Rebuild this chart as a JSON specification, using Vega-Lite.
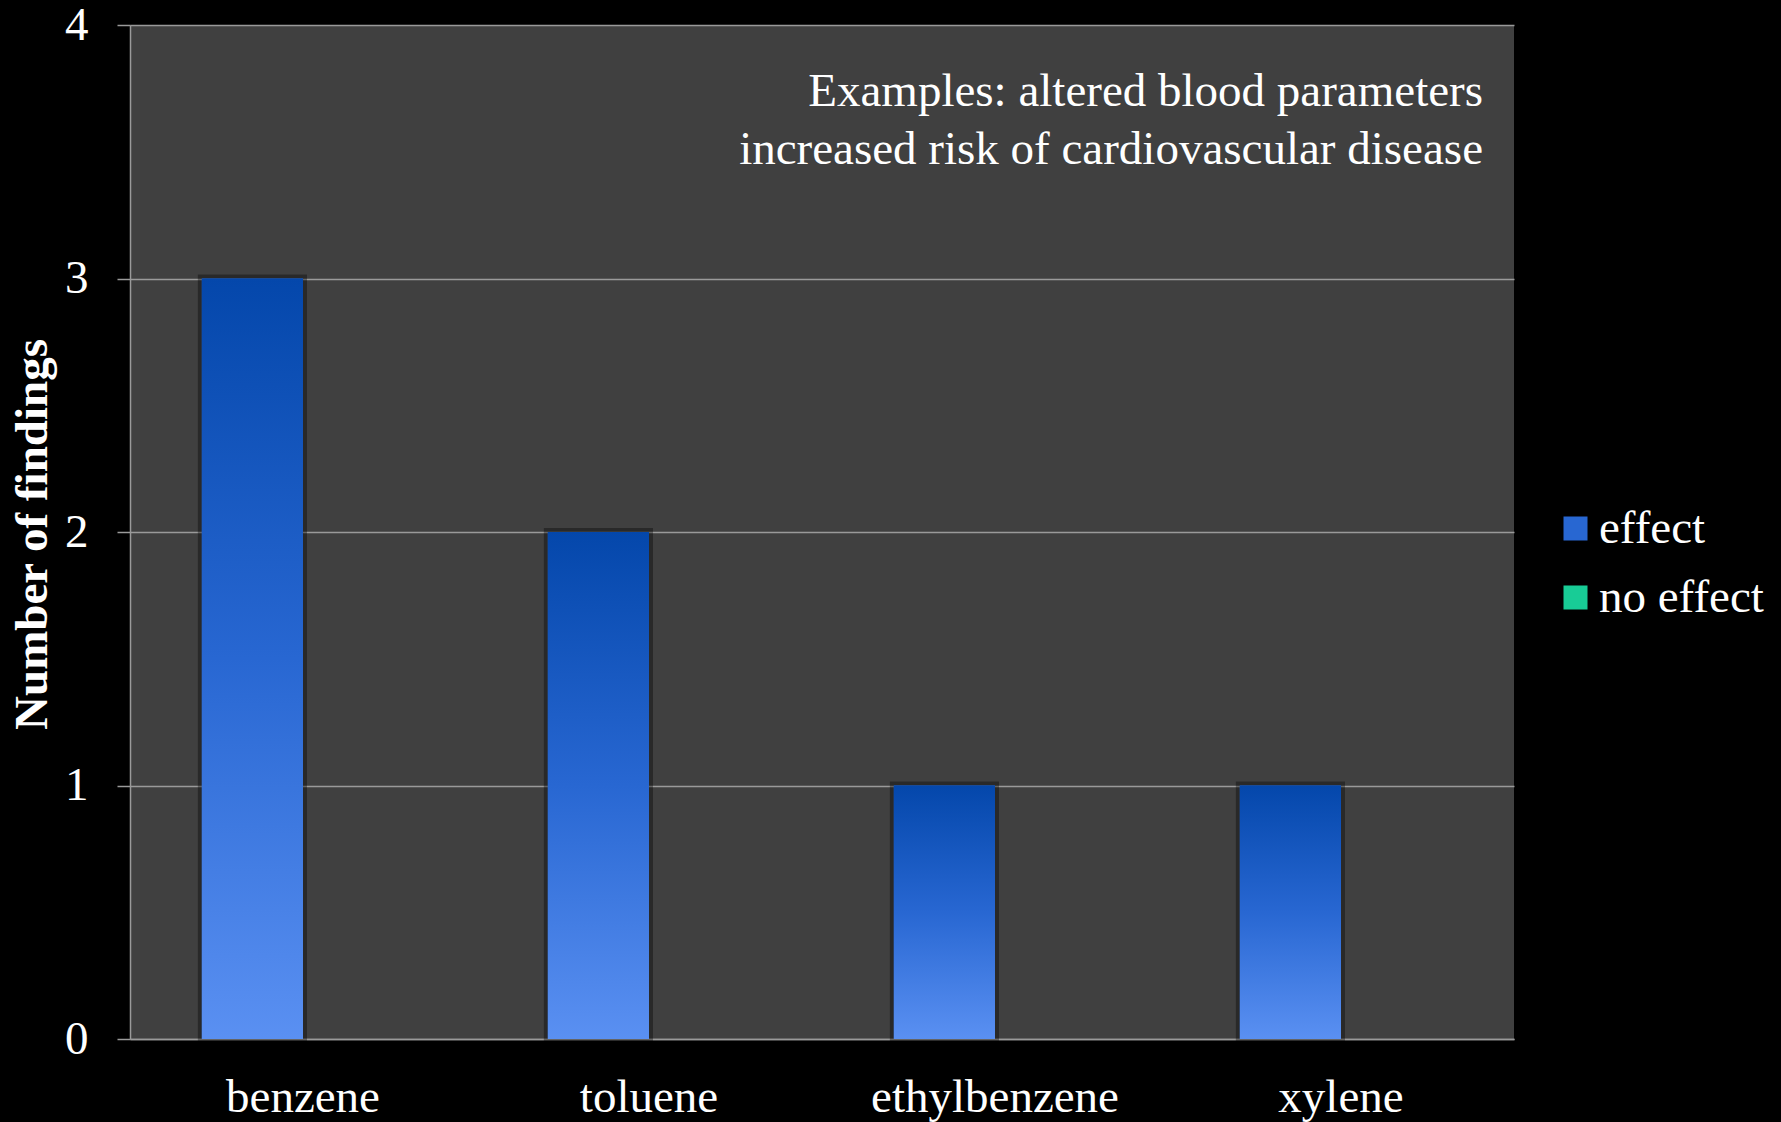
{
  "$schema": "https://vega.github.io/schema/vega-lite/v6.json",
  "width": 1384,
  "height": 1014,
  "autosize": {"type": "none"},
  "padding": {"left": 130, "top": 25, "right": 267, "bottom": 83},
  "background": "#000000",
  "config": {
    "font": "Liberation Serif",
    "view": {"fill": "#404040", "stroke": null},
    "axis": {"labelFont": "Liberation Serif", "titleFont": "Liberation Serif"},
    "legend": {"labelFont": "Liberation Serif"}
  },
  "title": {
    "text": ["Examples: altered blood parameters", "increased risk of cardiovascular disease"],
    "anchor": "end",
    "frame": "group",
    "orient": "top",
    "baseline": "alphabetic",
    "offset": -209.5,
    "dx": -31,
    "lineHeight": 57.5,
    "fontSize": 47,
    "fontWeight": "normal",
    "color": "#ffffff",
    "font": "Liberation Serif",
    "limit": 0
  },
  "data": {
    "values": [
      {"chemical": "benzene", "series": "effect", "findings": 3},
      {"chemical": "benzene", "series": "no effect", "findings": 0},
      {"chemical": "toluene", "series": "effect", "findings": 2},
      {"chemical": "toluene", "series": "no effect", "findings": 0},
      {"chemical": "ethylbenzene", "series": "effect", "findings": 1},
      {"chemical": "ethylbenzene", "series": "no effect", "findings": 0},
      {"chemical": "xylene", "series": "effect", "findings": 1},
      {"chemical": "xylene", "series": "no effect", "findings": 0}
    ]
  },
  "encoding": {
    "x": {
      "field": "chemical",
      "type": "nominal",
      "sort": ["benzene", "toluene", "ethylbenzene", "xylene"],
      "scale": {"paddingInner": 0, "paddingOuter": 0},
      "axis": {
        "title": null,
        "labelAngle": 0,
        "labelFont": "Liberation Serif",
        "labelFontSize": 47,
        "labelColor": "#ffffff",
        "labelBaseline": "alphabetic",
        "labelPadding": 72,
        "labelLimit": 0,
        "labelOverlap": false,
        "ticks": false,
        "tickSize": 0,
        "domainColor": "#9a9a9a",
        "domainWidth": 1.5,
        "grid": false
      }
    },
    "xOffset": {
      "field": "series",
      "type": "nominal",
      "sort": ["effect", "no effect"],
      "scale": {"paddingInner": 0, "paddingOuter": 0.71}
    },
    "y": {
      "field": "findings",
      "type": "quantitative",
      "scale": {"domain": [0, 4], "nice": false},
      "axis": {
        "title": "Number of findings",
        "titleFont": "Liberation Serif",
        "titleFontSize": 47,
        "titleFontWeight": "bold",
        "titleColor": "#ffffff",
        "titleAngle": -90,
        "titleAlign": "center",
        "titleBaseline": "middle",
        "titleX": -98,
        "titleY": 509,
        "values": [0, 1, 2, 3, 4],
        "format": "d",
        "labelFont": "Liberation Serif",
        "labelFontSize": 47,
        "labelColor": "#ffffff",
        "labelPadding": 29,
        "tickSize": 13,
        "tickColor": "#9a9a9a",
        "tickWidth": 1.5,
        "domainColor": "#9a9a9a",
        "domainWidth": 1.5,
        "gridColor": "#9a9a9a",
        "gridWidth": 1.5
      }
    }
  },
  "layer": [
    {
      "transform": [{"filter": "datum.findings > 0"}],
      "mark": {
        "type": "bar",
        "fill": "#000000",
        "fillOpacity": 0,
        "stroke": "#000000",
        "strokeOpacity": 0.35,
        "strokeWidth": 8
      }
    },
    {
      "mark": {"type": "bar"},
      "encoding": {
        "color": {
          "field": "series",
          "type": "nominal",
          "sort": ["effect", "no effect"],
          "scale": {
            "domain": ["effect", "no effect"],
            "range": ["#2867d2", "#18cc96"]
          },
          "legend": {
            "title": null,
            "orient": "none",
            "legendX": 1422,
            "legendY": 480,
            "padding": 0,
            "symbolType": "square",
            "symbolSize": 576,
            "symbolStrokeWidth": 0,
            "labelFont": "Liberation Serif",
            "labelFontSize": 47,
            "labelColor": "#ffffff",
            "labelOffset": 0,
            "labelLimit": 0,
            "rowPadding": 21
          }
        }
      }
    },
    {
      "transform": [{"filter": "datum.series === 'effect'"}],
      "mark": {
        "type": "bar",
        "color": {
          "gradient": "linear",
          "x1": 0, "y1": 0, "x2": 0, "y2": 1,
          "stops": [
            {"offset": 0, "color": "#0447ab"},
            {"offset": 0.5, "color": "#2867d2"},
            {"offset": 1, "color": "#5a90f2"}
          ]
        }
      }
    }
  ]
}
